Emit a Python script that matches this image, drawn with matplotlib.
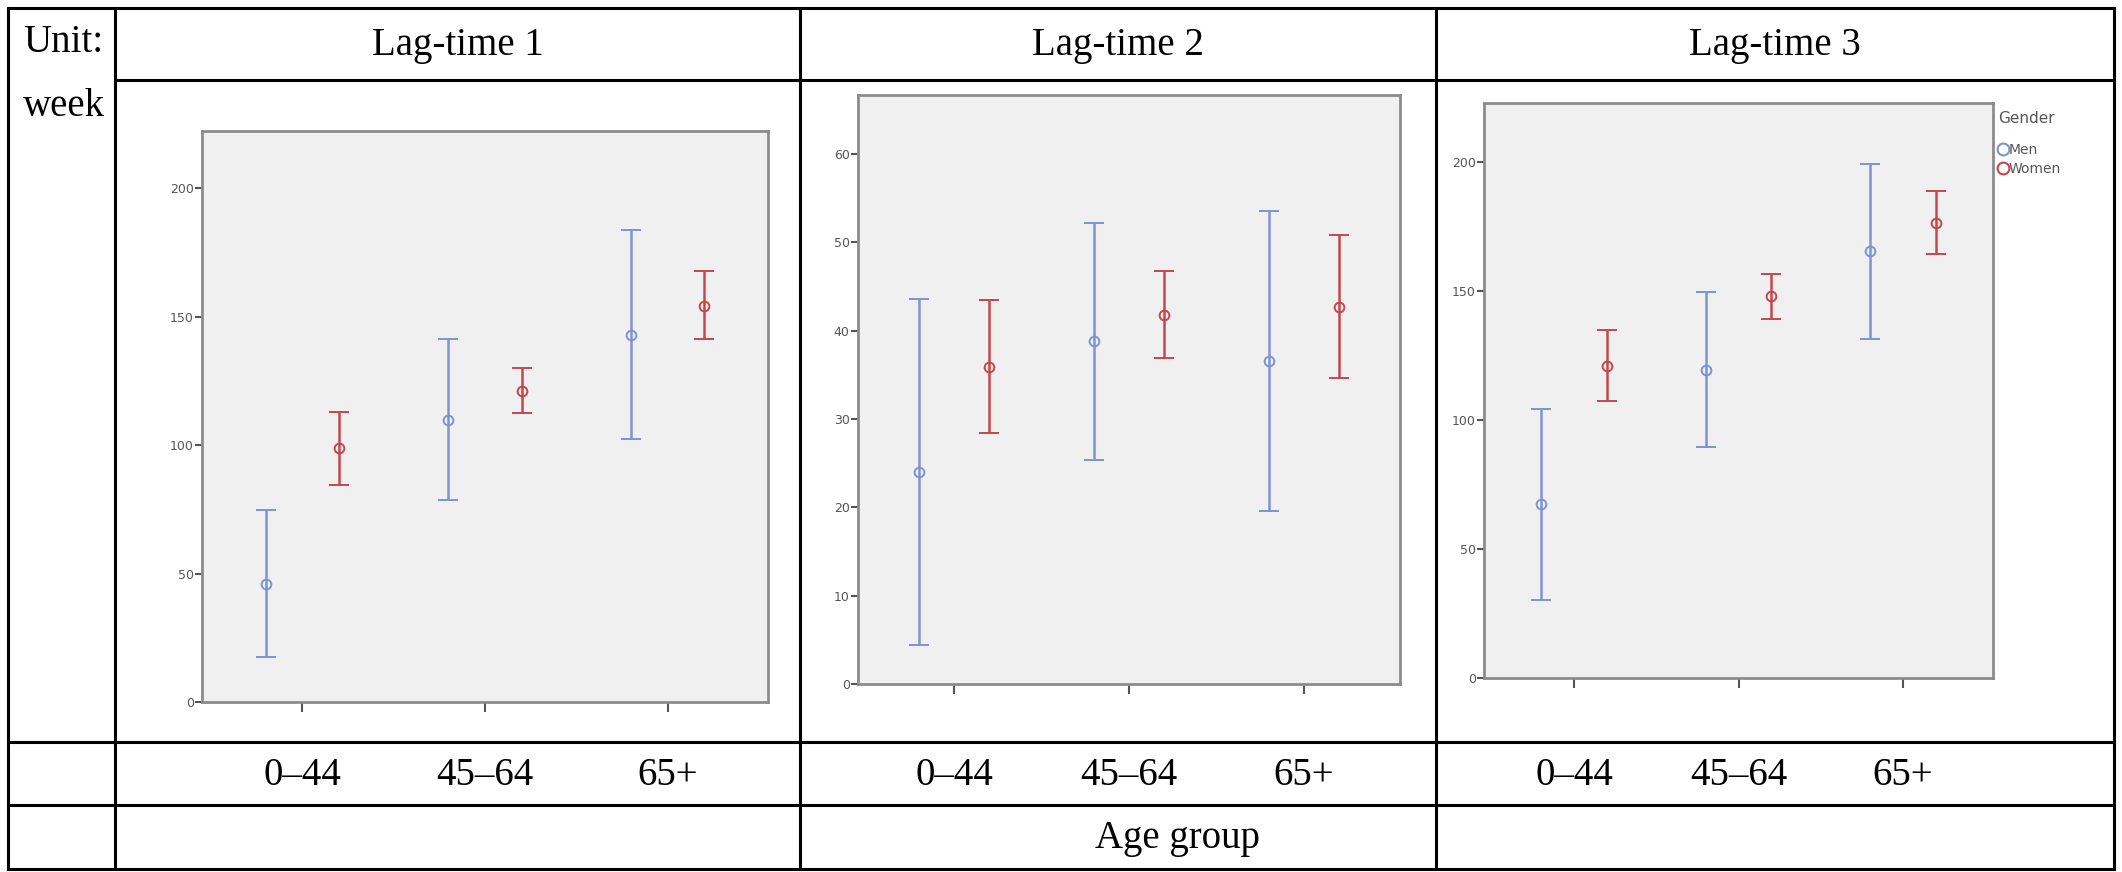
import matplotlib
matplotlib.use("Agg")
import matplotlib.pyplot as plt
from matplotlib.lines import Line2D
from matplotlib.transforms import blended_transform_factory

# --- data (mean and 95% CI per age group) ---
groups = ["0–44", "45–64", "65+"]
panel_titles = ["Lag-time 1", "Lag-time 2", "Lag-time 3"]

lag1_men = [46.1, 109.8, 143.0]
lag1_men_lo = [17.4, 78.5, 102.2]
lag1_men_hi = [74.8, 141.3, 183.5]
lag1_women = [98.7, 121.1, 154.1]
lag1_women_lo = [84.6, 112.4, 141.1]
lag1_women_hi = [112.8, 129.8, 167.6]

lag2_men = [24.0, 38.8, 36.6]
lag2_men_lo = [4.4, 25.4, 19.6]
lag2_men_hi = [43.6, 52.2, 53.6]
lag2_women = [35.9, 41.8, 42.7]
lag2_women_lo = [28.4, 36.9, 34.6]
lag2_women_hi = [43.5, 46.8, 50.9]

lag3_men = [67.3, 119.3, 165.2]
lag3_men_lo = [30.1, 89.6, 131.4]
lag3_men_hi = [104.3, 149.4, 198.9]
lag3_women = [121.0, 147.8, 176.2]
lag3_women_lo = [107.4, 139.2, 164.1]
lag3_women_hi = [134.8, 156.3, 188.5]

yticks1 = [0, 50, 100, 150, 200]
yticks2 = [0, 10, 20, 30, 40, 50, 60]
yticks3 = [0, 50, 100, 150, 200]

W, H = 2122, 872
MEN_C = "#7f93d3"
WOMEN_C = "#c2474f"
SERIF = "Liberation Serif"

fig = plt.figure(figsize=(W / 100, H / 100), dpi=100)
fig.patch.set_facecolor("white")

# overlay in pixel coords for the table grid and typed text
ax0 = fig.add_axes([0, 0, 1, 1])
ax0.set_xlim(0, W)
ax0.set_ylim(H, 0)
ax0.axis("off")

col_x = [8, 115, 800, 1436, 2114]
row_y = [8, 80, 742, 805, 869]
lw_tab = 2.2
for x in col_x:
    ax0.plot([x, x], [row_y[0], row_y[-1]], color="black", lw=lw_tab, solid_capstyle="projecting")
ax0.plot([col_x[0], col_x[-1]], [row_y[0], row_y[0]], color="black", lw=lw_tab)
ax0.plot([col_x[1], col_x[-1]], [row_y[1], row_y[1]], color="black", lw=lw_tab)
for y in row_y[2:]:
    ax0.plot([col_x[0], col_x[-1]], [y, y], color="black", lw=lw_tab)

ax0.text(23, 42, "Unit:", fontsize=28, family=SERIF, va="center", ha="left")
ax0.text(23, 106, "week", fontsize=28, family=SERIF, va="center", ha="left")
for i, t in enumerate(panel_titles):
    ax0.text((col_x[i + 1] + col_x[i + 2]) / 2, 46, t, fontsize=28, family=SERIF,
             ha="center", va="center")
ax0.text(1177, 838, "Age group", fontsize=28, family=SERIF, ha="center", va="center")

# plot boxes in pixels: left, top, right, bottom
boxes = [(202, 131, 768, 702), (858, 95, 1400, 684), (1484, 103, 1993, 678)]
ylims = [222.2, 66.7, 222.7]
panels = [
    (lag1_men, lag1_men_lo, lag1_men_hi, lag1_women, lag1_women_lo, lag1_women_hi, yticks1),
    (lag2_men, lag2_men_lo, lag2_men_hi, lag2_women, lag2_women_lo, lag2_women_hi, yticks2),
    (lag3_men, lag3_men_lo, lag3_men_hi, lag3_women, lag3_women_lo, lag3_women_hi, yticks3),
]

xpos = list(range(len(groups)))
for (l, t, r, b), ymax, p in zip(boxes, ylims, panels):
    men, men_lo, men_hi, wom, wom_lo, wom_hi, yt = p
    ax = fig.add_axes([l / W, 1 - b / H, (r - l) / W, (b - t) / H])
    ax.set_facecolor("#f0f0f0")
    for s in ax.spines.values():
        s.set_color("#8c8c8c")
        s.set_linewidth(2)

    xm = [x - 0.2 for x in xpos]
    xw = [x + 0.2 for x in xpos]
    ax.errorbar(xm, men, yerr=[[m - lo for m, lo in zip(men, men_lo)], [hi - m for m, hi in zip(men, men_hi)]],
                fmt="o", mfc="none", mec=MEN_C, ecolor=MEN_C, ms=7, mew=1.4,
                elinewidth=1.8, capsize=7, capthick=1.8, label="Men")
    ax.errorbar(xw, wom, yerr=[[m - lo for m, lo in zip(wom, wom_lo)], [hi - m for m, hi in zip(wom, wom_hi)]],
                fmt="o", mfc="none", mec=WOMEN_C, ecolor=WOMEN_C, ms=7, mew=1.4,
                elinewidth=1.8, capsize=7, capthick=1.8, label="Women")

    ax.set_xlim(-0.55, 2.55)
    ax.set_ylim(0, ymax)
    ax.set_yticks(yt)
    ax.set_yticklabels([str(v) for v in yt], fontsize=9, color="#555555")
    ax.set_xticks(xpos)
    ax.set_xticklabels([])
    ax.tick_params(axis="y", direction="out", length=5, width=1.5, color="#555555", pad=1)
    ax.tick_params(axis="x", direction="out", length=7, width=1.5, color="#555555")

    # category names typed in the table row below each chart
    tr = blended_transform_factory(ax.transData, ax0.transData)
    for x, g in zip(xpos, groups):
        ax0.text(x, 775, g, transform=tr, fontsize=28, family=SERIF, ha="center", va="center")

handles = [
    Line2D([], [], ls="none", marker="o", mfc="none", mec=MEN_C, ms=8.5, mew=1.5),
    Line2D([], [], ls="none", marker="o", mfc="none", mec=WOMEN_C, ms=8.5, mew=1.5),
]
leg = fig.legend(handles, ["Men", "Women"], title="Gender", loc="upper left",
                 bbox_to_anchor=(1998 / W, 1 - 111 / H), frameon=False,
                 fontsize=10, title_fontsize=11, handlelength=0.7, handletextpad=0.05,
                 labelspacing=0.35, borderpad=0, borderaxespad=0)
leg._legend_box.align = "left"
leg._legend_box.sep = 12
for txt in leg.get_texts():
    txt.set_color("#555555")
leg.get_title().set_color("#555555")

fig.savefig("out.png", dpi=100)
